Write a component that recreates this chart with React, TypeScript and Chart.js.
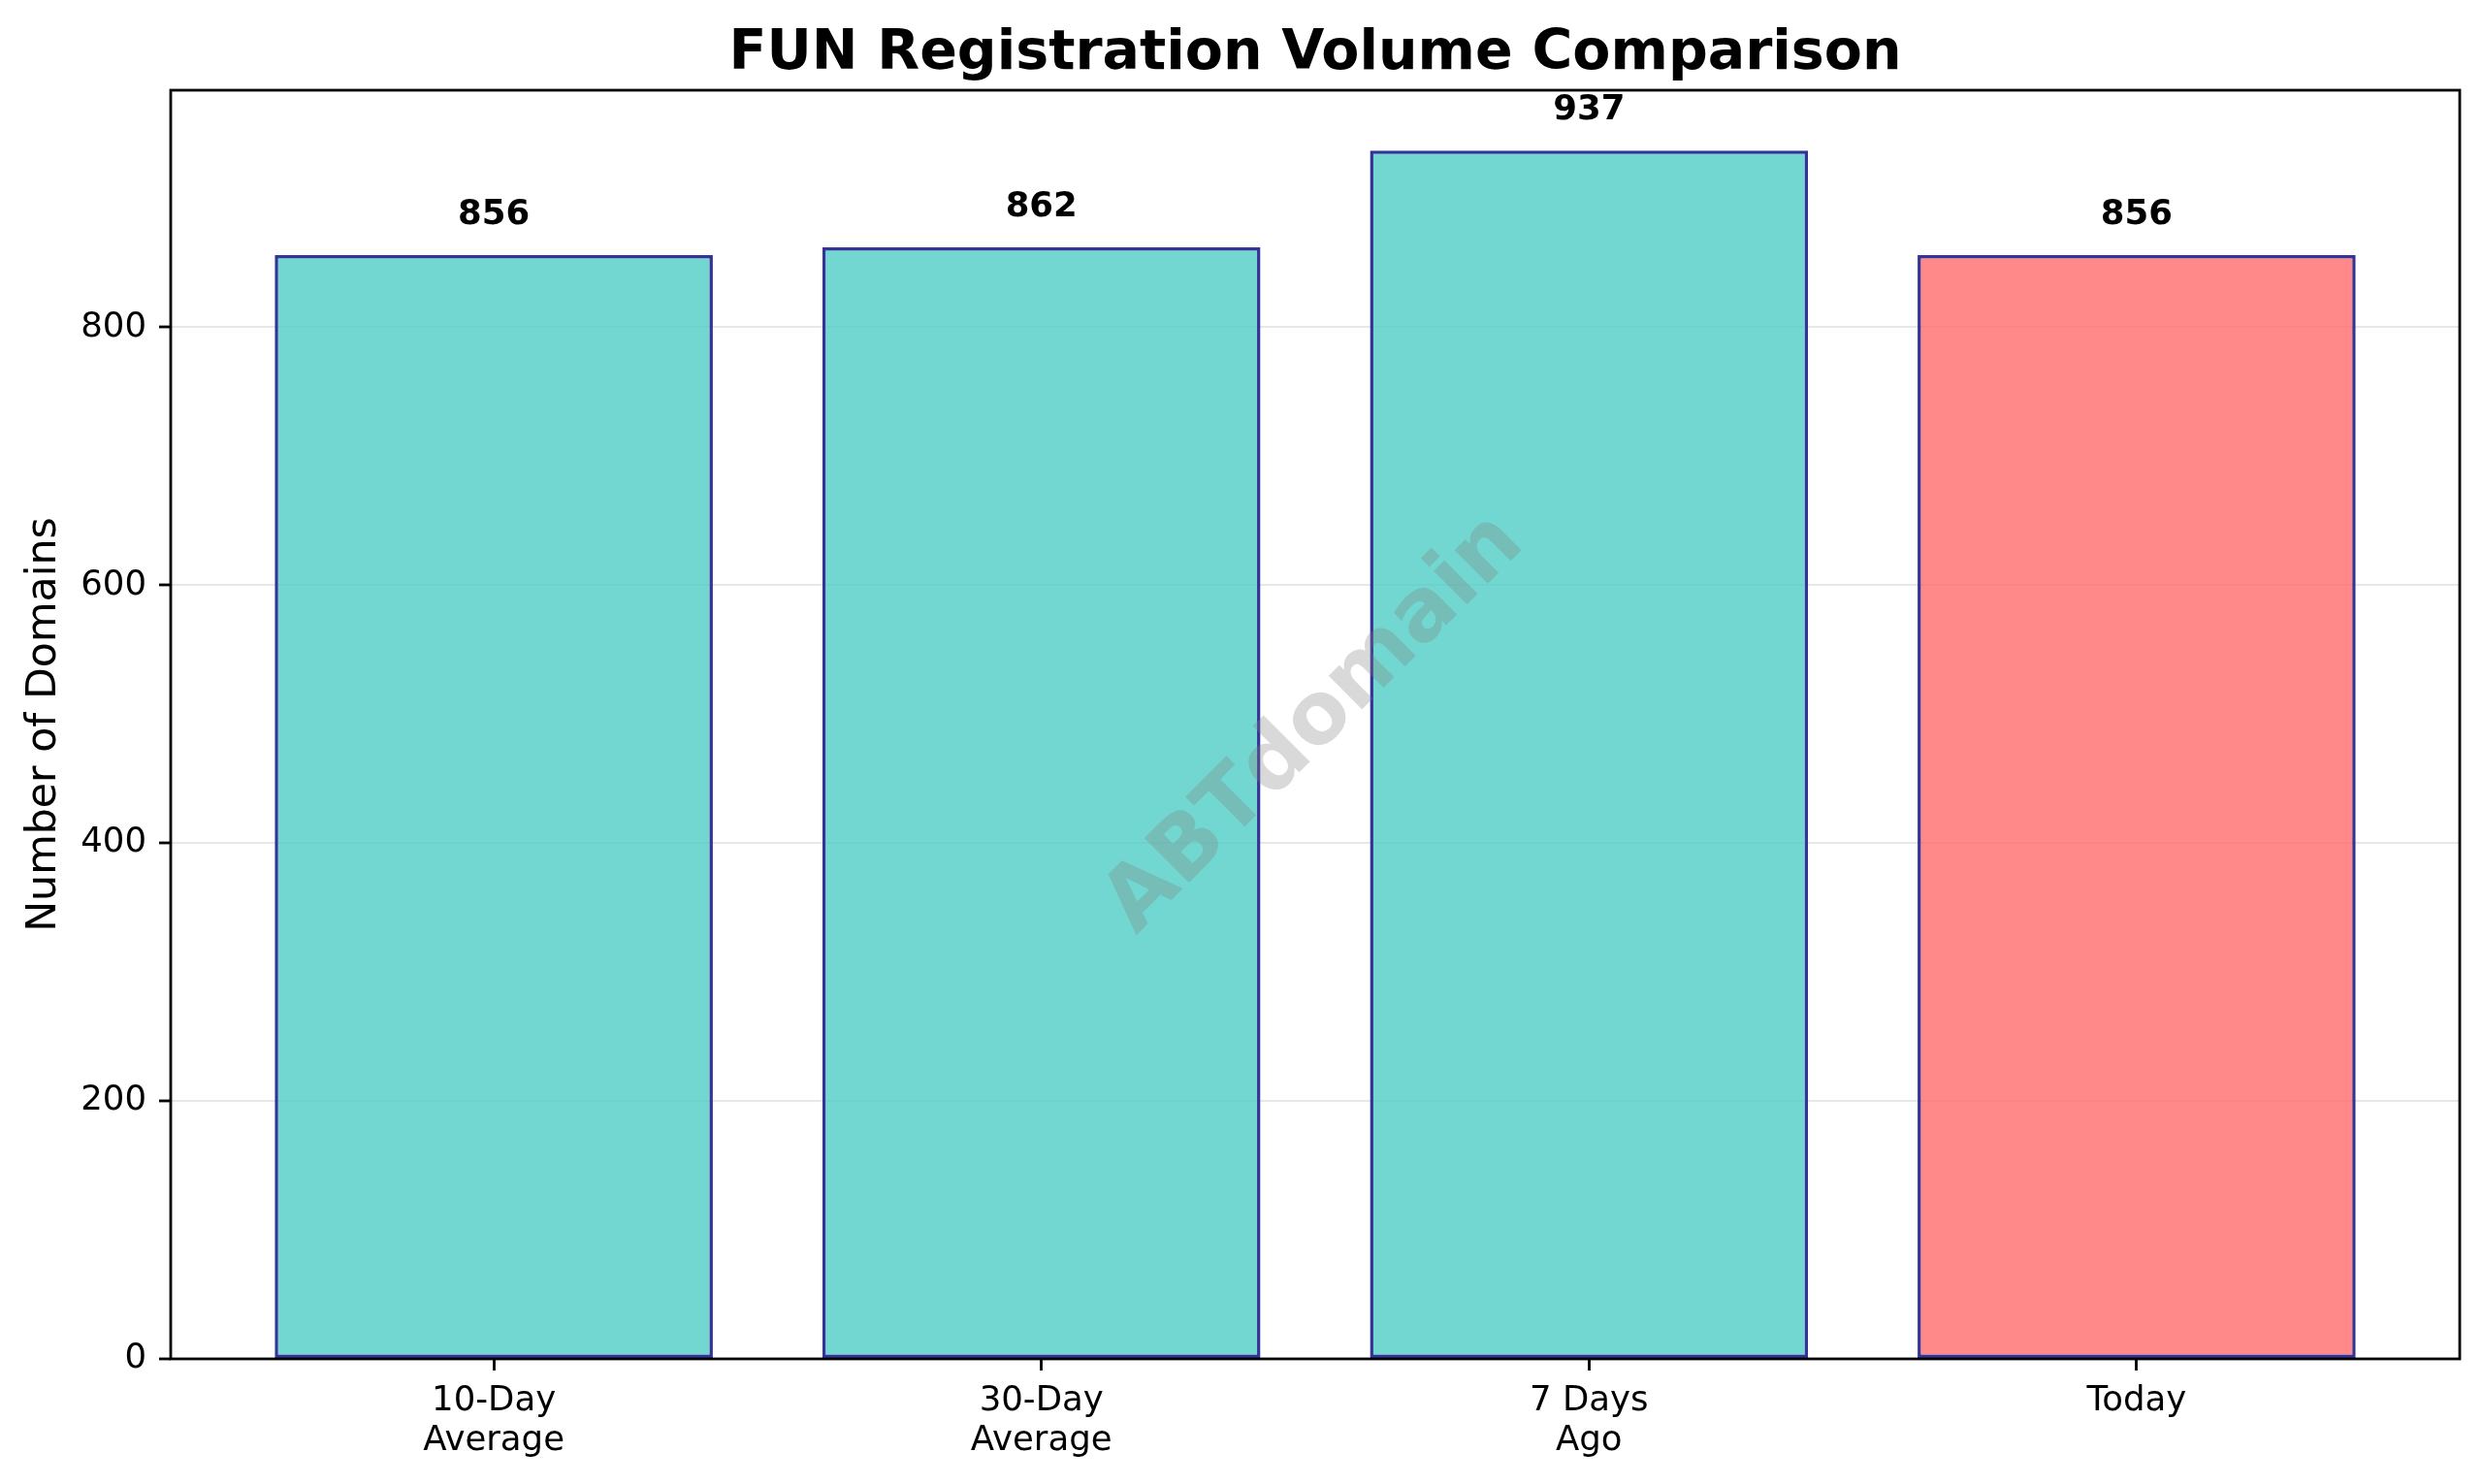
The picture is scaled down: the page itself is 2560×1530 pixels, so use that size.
import React, { useEffect, useRef } from "react";
import { Chart, registerables } from "chart.js";

Chart.register(...registerables);

const TITLE = "FUN Registration Volume Comparison";
const Y_LABEL = "Number of Domains";
const WATERMARK = "ABTdomain";
const CATEGORIES: string[][] = [["10-Day", "Average"], ["30-Day", "Average"], ["7 Days", "Ago"], ["Today"]];
const VALUES = [856, 862, 937, 856];
const BAR_COLORS = [
  "rgba(78,205,196,0.8)",
  "rgba(78,205,196,0.8)",
  "rgba(78,205,196,0.8)",
  "rgba(255,107,107,0.8)",
];
const Y_TICKS = [0, 200, 400, 600, 800];
const Y_MAX = 983.85;
const X_MIN = -0.59;
const X_MAX = 3.59;

const FONT = "DejaVu Sans";

const overlayPlugin = {
  id: "overlay",
  afterDraw(chart: any) {
    const { ctx, chartArea: ca } = chart;
    ctx.save();
    // watermark
    ctx.save();
    ctx.translate((ca.left + ca.right) / 2, (ca.top + ca.bottom) / 2);
    ctx.rotate(-Math.PI / 4);
    ctx.font = `bold 89px "${FONT}"`;
    ctx.fillStyle = "rgba(128,128,128,0.3)";
    ctx.textAlign = "center";
    ctx.textBaseline = "middle";
    ctx.fillText(WATERMARK, 0, 0);
    ctx.restore();

    // value labels
    const meta = chart.getDatasetMeta(0);
    ctx.font = `bold 35.5px "${FONT}"`;
    ctx.fillStyle = "#000";
    ctx.textAlign = "center";
    ctx.textBaseline = "alphabetic";
    meta.data.forEach((bar: any, i: number) => {
      ctx.fillText(String(VALUES[i]), bar.x, bar.y - 32);
    });

    // spines
    ctx.strokeStyle = "#000";
    ctx.lineWidth = 2.8;
    ctx.strokeRect(ca.left, ca.top, ca.right - ca.left, ca.bottom - ca.top);

    // title
    ctx.font = `bold 57px "${FONT}"`;
    ctx.fillStyle = "#000";
    ctx.textAlign = "center";
    ctx.textBaseline = "alphabetic";
    ctx.fillText(TITLE, (ca.left + ca.right) / 2, 71);
    ctx.restore();
  },
};

export default function App() {
  const ref = useRef<HTMLCanvasElement | null>(null);

  useEffect(() => {
    if (!ref.current) return;
    Chart.defaults.font.family = FONT;
    const chart = new Chart(ref.current, {
      type: "bar",
      data: {
        datasets: [
          {
            data: VALUES.map((v, i) => ({ x: i, y: v })),
            backgroundColor: BAR_COLORS,
            borderColor: "rgb(51,51,153)",
            borderWidth: 3.5,
            borderSkipped: false,
            barPercentage: 0.8,
            categoryPercentage: 1,
          } as any,
        ],
      },
      options: {
        responsive: false,
        animation: false,
        devicePixelRatio: 1,
        layout: { padding: { left: 0, right: 24, top: 93, bottom: 0 } },
        plugins: {
          legend: { display: false },
          title: { display: false },
          tooltip: { enabled: false },
        },
        scales: {
          x: {
            type: "linear",
            min: X_MIN,
            max: X_MAX,
            offset: false,
            afterBuildTicks: (scale: any) => {
              scale.ticks = CATEGORIES.map((_, i) => ({ value: i }));
            },
            afterFit: (scale: any) => {
              scale.height = 129;
            },
            ticks: {
              callback: (value: any) => CATEGORIES[Math.round(Number(value))],
              color: "#000",
              font: { size: 35.5, lineHeight: 1.16 },
              padding: 11,
              maxRotation: 0,
              autoSkip: false,
            },
            grid: {
              offset: false,
              drawOnChartArea: false,
              drawTicks: true,
              tickLength: 12,
              tickColor: "#000",
              tickWidth: 2.8,
            },
            border: { display: false },
          } as any,
          y: {
            type: "linear",
            min: 0,
            max: Y_MAX,
            afterBuildTicks: (scale: any) => {
              scale.ticks = Y_TICKS.map((v) => ({ value: v }));
            },
            afterFit: (scale: any) => {
              scale.width = 176;
            },
            ticks: {
              color: "#000",
              font: { size: 35.5 },
              padding: 13,
              callback: (value: any) => String(value),
            },
            grid: {
              color: "rgba(176,176,176,0.3)",
              lineWidth: 2,
              drawTicks: true,
              tickLength: 12,
              tickColor: "#000",
              tickWidth: 2.8,
            },
            border: { display: false },
            title: {
              display: true,
              text: Y_LABEL,
              color: "#000",
              font: { size: 42.7, lineHeight: 1.2 },
              padding: { top: 20.7, bottom: 0 },
            },
          } as any,
        },
      },
      plugins: [overlayPlugin],
    });
    return () => chart.destroy();
  }, []);

  return (
    <div style={{ position: "fixed", left: 0, top: 0, width: 2560, height: 1530, background: "#fff" }}>
      <canvas ref={ref} width={2560} height={1530} style={{ display: "block", width: 2560, height: 1530 }} />
    </div>
  );
}
